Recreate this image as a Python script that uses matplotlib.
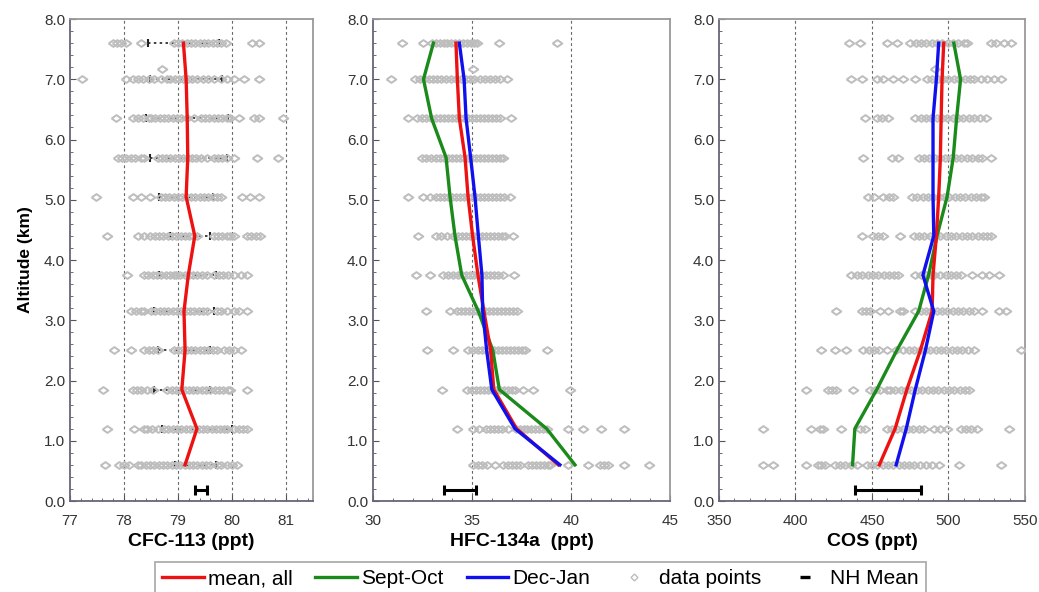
import matplotlib
matplotlib.use('Agg')
import matplotlib.pyplot as plt
from matplotlib.ticker import MultipleLocator, FormatStrFormatter
from matplotlib.lines import Line2D

plt.rcParams['font.family'] = ['Liberation Sans', 'DejaVu Sans']

# altitude bins (km)
alts = [0.6, 1.2, 1.85, 2.5, 3.15, 3.75, 4.4, 5.05, 5.7, 6.35, 7.0, 7.6]

# ---- CFC-113 ----
cfc_mean = [79.13, 79.35, 79.07, 79.13, 79.11, 79.19, 79.31, 79.15, 79.18, 79.17, 79.15, 79.10]
cfc_lo = [78.95, 78.70, 78.55, 78.63, 78.55, 78.65, 78.85, 78.64, 78.48, 78.40, 78.48, 78.45]
cfc_hi = [79.70, 80.00, 79.60, 79.60, 79.66, 79.70, 79.60, 79.65, 79.90, 79.93, 79.82, 79.75]
cfc_nh = (79.42, 0.11)
cfc_points = [
    [77.65, 77.91, 78.0, 78.09, 78.25, 78.32, 78.4, 78.48, 78.56, 78.64, 78.72, 78.8, 78.88, 78.96, 79.04,
     79.12, 79.2, 79.28, 79.36, 79.44, 79.52, 79.6, 79.72, 79.8, 79.9, 80.0, 80.09],
    [77.68, 78.19, 78.37, 78.43, 78.52, 78.62, 78.74, 78.82, 78.9, 78.98, 79.06, 79.14, 79.22, 79.3, 79.38,
     79.46, 79.54, 79.62, 79.7, 79.78, 79.86, 79.91, 80.03, 80.12, 80.2, 80.28],
    [77.61, 78.16, 78.24, 78.32, 78.43, 78.53, 78.8, 78.88, 78.96, 79.04, 79.12, 79.2, 79.28, 79.36, 79.44,
     79.52, 79.6, 79.68, 79.76, 79.84, 79.92, 79.97, 80.28],
    [77.82, 78.13, 78.37, 78.46, 78.54, 78.62, 78.92, 79.0, 79.08, 79.16, 79.24, 79.32, 79.4, 79.48, 79.56,
     79.64, 79.72, 79.85, 79.94, 80.03, 80.16],
    [78.13, 78.22, 78.31, 78.37, 78.5, 78.58, 78.66, 78.74, 78.82, 78.9, 78.98, 79.06, 79.14, 79.22, 79.3,
     79.38, 79.46, 79.54, 79.72, 79.8, 79.91, 80.03, 80.12, 80.28],
    [78.05, 78.37, 78.45, 78.53, 78.61, 78.69, 78.77, 78.85, 78.92, 78.96, 79.04, 79.12, 79.2, 79.28, 79.36,
     79.44, 79.54, 79.66, 79.75, 79.84, 79.93, 80.03, 80.16, 80.28],
    [77.69, 78.25, 78.37, 78.49, 78.57, 78.65, 78.73, 78.81, 78.89, 78.97, 79.05, 79.13, 79.2, 79.28, 79.36,
     79.66, 79.74, 79.82, 79.9, 79.97, 80.03, 80.28, 80.36, 80.44, 80.52],
    [77.48, 78.16, 78.31, 78.49, 78.68, 78.76, 78.84, 78.92, 79.0, 79.08, 79.16, 79.24, 79.32, 79.4, 79.48,
     79.56, 79.64, 79.72, 79.79, 80.19, 80.34, 80.49],
    [77.88, 77.96, 78.04, 78.12, 78.2, 78.31, 78.37, 78.62, 78.7, 78.78, 78.86, 78.94, 79.02, 79.1, 79.18,
     79.26, 79.34, 79.42, 79.54, 79.66, 79.74, 79.82, 79.91, 80.03, 80.46, 80.86],
    [77.85, 78.16, 78.26, 78.36, 78.46, 78.5, 78.58, 78.66, 78.74, 78.82, 78.9, 78.99, 79.05, 79.17, 79.29,
     79.42, 79.5, 79.58, 79.66, 79.74, 79.82, 79.9, 79.97, 80.12, 80.4, 80.49, 80.95],
    [77.23, 78.03, 78.16, 78.26, 78.36, 78.46, 78.56, 78.68, 78.8, 78.86, 78.94, 79.02, 79.1, 79.18, 79.26,
     79.36, 79.46, 79.56, 79.66, 79.79, 79.91, 80.03, 80.22, 80.49],
    [77.79, 77.87, 77.95, 78.03, 78.31, 78.92, 79.0, 79.08, 79.16, 79.24, 79.32, 79.4, 79.48, 79.56, 79.64,
     79.72, 79.8, 79.88, 80.37, 80.49],
]
cfc_stray = (7.17, 78.71)

# ---- HFC-134a ----
hfc_mean = [39.36, 37.25, 36.10, 35.94, 35.60, 35.30, 35.03, 34.80, 34.65, 34.36, 34.26, 34.19]
hfc_sep = [40.20, 38.77, 36.38, 36.05, 35.32, 34.48, 34.14, 33.89, 33.69, 32.96, 32.55, 33.05]
hfc_dec = [39.44, 37.17, 36.00, 35.74, 35.54, 35.50, 35.32, 35.15, 34.93, 34.70, 34.60, 34.36]
hfc_nh = (34.4, 0.8)
hfc_points = [
    [35.07, 35.3, 35.52, 35.74, 36.16, 36.58, 36.8, 37.0, 37.2, 37.42, 37.85, 38.05, 38.25, 38.45, 38.65,
     38.85, 38.94, 39.87, 40.88, 41.46, 41.68, 41.89, 42.69, 43.96],
    [34.23, 35.07, 35.35, 35.7, 35.9, 36.1, 36.3, 36.5, 36.8, 37.2, 37.4, 37.6, 37.8, 38.0, 38.2, 38.4,
     38.6, 38.77, 39.87, 40.62, 41.5, 42.69],
    [33.47, 34.73, 34.98, 35.2, 35.4, 35.6, 35.8, 36.0, 36.2, 36.4, 36.6, 36.8, 37.0, 37.17, 37.59, 38.1, 39.95],
    [32.74, 34.06, 34.81, 35.07, 35.3, 35.5, 35.7, 35.9, 36.1, 36.3, 36.5, 36.7, 36.9, 37.1, 37.3, 37.51,
     37.68, 38.8],
    [32.68, 33.89, 34.23, 34.45, 34.65, 34.85, 35.05, 35.25, 35.45, 35.65, 35.85, 36.05, 36.25, 36.45,
     36.65, 36.85, 37.05, 37.26],
    [32.17, 32.88, 33.55, 33.8, 34.06, 34.3, 34.5, 34.7, 34.9, 35.1, 35.3, 35.5, 35.7, 35.9, 36.1, 36.3,
     36.58, 37.14],
    [32.29, 33.2, 33.45, 33.72, 34.06, 34.3, 34.5, 34.7, 34.9, 35.1, 35.3, 35.5, 35.7, 35.9, 36.1, 36.3,
     36.5, 36.67, 37.05],
    [31.78, 32.54, 32.88, 33.2, 33.4, 33.6, 33.8, 34.0, 34.2, 34.4, 34.6, 34.8, 35.0, 35.2, 35.4, 35.6,
     35.8, 36.0, 36.2, 36.4, 36.6, 36.92],
    [32.46, 32.7, 32.95, 33.2, 33.38, 33.6, 33.8, 34.0, 34.2, 34.4, 34.6, 34.8, 35.0, 35.2, 35.4, 35.6,
     35.8, 36.0, 36.2, 36.4, 36.58],
    [31.78, 32.2, 32.45, 32.7, 32.95, 33.2, 33.38, 33.6, 33.8, 34.0, 34.2, 34.4, 34.6, 34.8, 35.0, 35.2,
     35.4, 35.6, 35.8, 36.0, 36.2, 36.41, 36.97],
    [30.89, 32.12, 32.35, 32.6, 32.85, 33.05, 33.22, 33.45, 33.7, 33.95, 34.2, 34.45, 34.7, 34.9, 35.1,
     35.4, 35.65, 35.9, 36.15, 36.4, 36.75],
    [31.45, 32.54, 32.96, 33.16, 33.36, 33.56, 33.76, 33.96, 34.16, 34.36, 34.56, 34.76, 34.96, 35.1,
     35.24, 36.38, 39.28],
]
hfc_stray = (7.17, 35.07)

# ---- COS ----
cos_mean = [454.8, 465.1, 472.8, 481.6, 489.3, 489.9, 492.1, 493.6, 494.7, 495.2, 495.8, 496.9]
cos_sep = [437.3, 438.8, 453.1, 466.2, 480.5, 487.0, 492.5, 499.1, 503.1, 505.3, 507.9, 503.5]
cos_dec = [465.8, 472.4, 478.3, 484.9, 490.4, 483.3, 490.4, 489.9, 489.9, 489.9, 492.1, 493.6]
cos_nh = (460.5, 21.5)
cos_points = [
    [378.5, 385.1, 406.6, 414.7, 417.0, 419.1, 425.7, 429.0, 432.5, 436.0, 439.9, 446.5, 450.0, 453.5,
     457.0, 460.5, 464.0, 467.5, 471.0, 474.0, 477.2, 481.6, 485.5, 489.5, 493.6, 506.8, 534.2],
    [378.5, 410.3, 415.8, 418.0, 430.0, 442.1, 445.4, 459.6, 463.0, 466.5, 470.0, 473.5, 477.0, 480.5,
     483.8, 490.4, 494.5, 499.1, 507.9, 511.5, 515.0, 518.9, 539.7],
    [407.0, 421.3, 424.0, 426.8, 437.7, 448.7, 452.0, 455.5, 459.6, 461.8, 465.3, 468.8, 472.3, 475.8,
     479.3, 482.8, 486.3, 489.8, 493.3, 496.8, 500.3, 503.8, 507.3, 510.5, 513.4],
    [416.9, 425.7, 433.3, 444.3, 447.8, 451.3, 454.8, 459.6, 465.8, 470.6, 474.1, 477.6, 481.1, 484.6,
     488.1, 491.6, 495.1, 498.6, 502.1, 505.6, 509.1, 512.6, 516.7, 547.4],
    [426.8, 443.2, 446.0, 448.7, 455.3, 460.7, 468.4, 470.6, 478.3, 481.8, 485.3, 488.8, 492.3, 495.8,
     499.3, 502.8, 506.3, 509.8, 513.3, 516.8, 522.1, 533.1, 537.5],
    [436.6, 440.1, 443.6, 447.1, 450.6, 454.1, 457.6, 461.1, 464.6, 467.3, 478.3, 481.8, 485.3, 488.8,
     490.4, 494.7, 498.2, 501.7, 505.2, 507.9, 515.6, 522.1, 526.5, 533.1],
    [443.2, 450.9, 454.2, 457.5, 468.4, 477.2, 480.7, 484.2, 487.7, 491.2, 494.7, 498.2, 501.7, 505.2,
     508.7, 512.2, 515.7, 519.2, 522.7, 525.2, 527.6],
    [447.6, 451.0, 457.0, 461.0, 464.0, 476.1, 479.6, 483.1, 486.6, 490.1, 493.6, 497.1, 500.6, 504.1,
     507.6, 511.1, 514.6, 518.1, 521.0, 523.2],
    [443.9, 463.0, 467.3, 480.5, 484.0, 487.5, 491.0, 494.5, 498.0, 501.5, 505.0, 508.5, 512.0, 515.5,
     519.0, 522.0, 527.6],
    [445.4, 453.1, 456.5, 460.7, 478.3, 481.8, 485.3, 488.8, 492.3, 495.8, 499.3, 502.8, 506.3, 509.8,
     513.3, 516.8, 520.3, 524.3],
    [436.6, 443.2, 453.1, 457.5, 464.0, 470.6, 478.3, 486.0, 489.5, 493.0, 496.5, 500.0, 503.5, 507.0,
     510.5, 514.0, 516.7, 521.0, 525.5, 530.0, 534.2],
    [435.1, 442.1, 459.6, 466.2, 475.0, 478.5, 482.0, 485.5, 489.0, 492.5, 496.0, 499.5, 503.0, 506.5,
     510.0, 512.3, 527.6, 531.0, 536.0, 540.8],
]
cos_stray = (7.17, 491.4)

GRAY = '#bdbdbd'
RED = '#ee1111'
GREEN = '#1a8a1a'
BLUE = '#1010ee'
# flattened diamond, a bit wider than tall
DIAMOND = [(-1, 0), (0, 0.7), (1, 0), (0, -0.7), (-1, 0)]

fig = plt.figure(figsize=(10.39, 5.92), dpi=100)
fig.patch.set_facecolor('white')

panels = [
    dict(pos=[0.0674, 0.1537, 0.2339, 0.8142], xlim=(77, 81.5), major=1, minor=0.2,
         grid=[78, 79, 80, 81], label='CFC-113 (ppt)'),
    dict(pos=[0.359, 0.1537, 0.2859, 0.8142], xlim=(30, 45), major=5, minor=1,
         grid=[35, 40], label='HFC-134a  (ppt)'),
    dict(pos=[0.692, 0.1537, 0.2945, 0.8142], xlim=(350, 550), major=50, minor=10,
         grid=[400, 450, 500], label='COS (ppt)'),
]

axes = []
for p in panels:
    ax = fig.add_axes(p['pos'])
    ax.set_xlim(*p['xlim'])
    ax.set_ylim(0, 8)
    ax.xaxis.set_major_locator(MultipleLocator(p['major']))
    ax.xaxis.set_minor_locator(MultipleLocator(p['minor']))
    ax.xaxis.set_major_formatter(FormatStrFormatter('%d'))
    ax.yaxis.set_major_locator(MultipleLocator(1))
    ax.yaxis.set_minor_locator(MultipleLocator(0.2))
    ax.yaxis.set_major_formatter(FormatStrFormatter('%.1f'))
    ax.tick_params(which='both', direction='in', colors='#555', labelcolor='#333', labelsize=11)
    ax.tick_params(which='major', length=4)
    ax.tick_params(which='minor', length=2.5)
    ax.tick_params(axis='x', pad=9)
    for g in p['grid']:
        ax.axvline(g, color='#666', ls=(0, (2.5, 2.5)), lw=0.8, zorder=1)
    for s in ['left', 'bottom']:
        ax.spines[s].set_color('#667')
        ax.spines[s].set_linewidth(1.3)
    for s in ['top', 'right']:
        ax.spines[s].set_color('#999')
        ax.spines[s].set_linewidth(1.3)
    ax.set_xlabel(p['label'], fontsize=14, fontweight='bold', labelpad=4)
    axes.append(ax)

axes[0].set_ylabel('Altitude (km)', fontsize=12.5, fontweight='bold', labelpad=8)


def scatter_rows(ax, rows, stray):
    for a, vals in zip(alts, rows):
        ax.plot(vals, [a] * len(vals), ls='none', marker=DIAMOND, ms=7, mfc='none',
                mec=GRAY, mew=1.4, zorder=3)
    ax.plot([stray[1]], [stray[0]], ls='none', marker=DIAMOND, ms=7, mfc='none',
            mec=GRAY, mew=1.4, zorder=3)


def nh_bar(ax, nh):
    ax.errorbar([nh[0]], [0.18], xerr=[nh[1]], fmt='none', ecolor='black',
                elinewidth=2.2, capsize=3.5, capthick=2.2, zorder=5)


# CFC-113
ax = axes[0]
ax.hlines(alts, cfc_lo, cfc_hi, colors='#222', linestyles=(0, (1.5, 2)), lw=1.2, zorder=2)
ax.plot(cfc_lo, alts, ls='none', marker='|', ms=6, mew=1.5, color='#222', zorder=2)
ax.plot(cfc_hi, alts, ls='none', marker='|', ms=6, mew=1.5, color='#222', zorder=2)
scatter_rows(ax, cfc_points, cfc_stray)
ax.plot(cfc_mean, alts, color=RED, lw=2.4, zorder=4)
nh_bar(ax, cfc_nh)

# HFC-134a
ax = axes[1]
scatter_rows(ax, hfc_points, hfc_stray)
ax.plot(hfc_sep, alts, color=GREEN, lw=2.4, zorder=4)
ax.plot(hfc_mean, alts, color=RED, lw=2.4, zorder=4)
ax.plot(hfc_dec, alts, color=BLUE, lw=2.4, zorder=4)
nh_bar(ax, hfc_nh)

# COS
ax = axes[2]
scatter_rows(ax, cos_points, cos_stray)
ax.plot(cos_sep, alts, color=GREEN, lw=2.4, zorder=4)
ax.plot(cos_mean, alts, color=RED, lw=2.4, zorder=4)
ax.plot(cos_dec, alts, color=BLUE, lw=2.4, zorder=4)
nh_bar(ax, cos_nh)

handles = [
    Line2D([], [], color=RED, lw=2.4),
    Line2D([], [], color=GREEN, lw=2.4),
    Line2D([], [], color=BLUE, lw=2.4),
    Line2D([], [], ls='none', marker='D', ms=3.5, mfc='none', mec=GRAY, mew=1),
    Line2D([], [], ls='none', marker='_', ms=7, mew=2.4, color='black'),
]
labels = ['mean, all', 'Sept-Oct', 'Dec-Jan', 'data points', 'NH Mean']
leg = fig.legend(handles, labels, loc='upper center', bbox_to_anchor=(0.52, 0.051),
                 ncol=5, fontsize=15, frameon=True, fancybox=False, edgecolor='#999',
                 handlelength=2.0, handletextpad=0.2, columnspacing=1.1,
                 borderpad=0.35, borderaxespad=0)
leg.get_frame().set_linewidth(1.3)

fig.savefig('out.png', dpi=100, facecolor='white')
